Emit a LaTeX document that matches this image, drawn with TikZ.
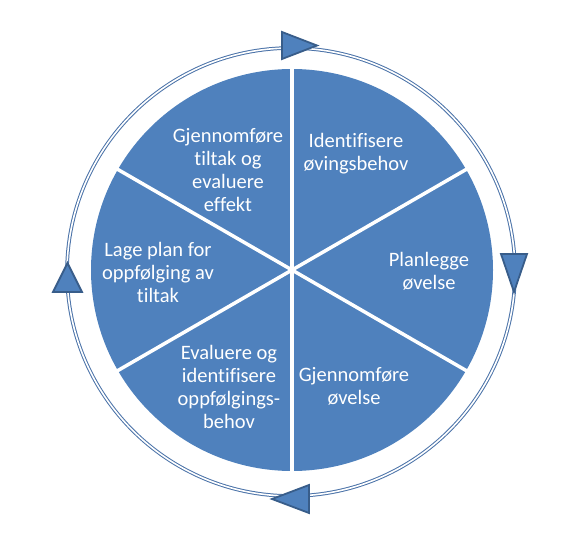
\documentclass[tikz,border=0pt]{standalone}
\usepackage{fontspec}
\setmainfont{Carlito}[Ligatures=NoCommon]
\definecolor{pieblue}{HTML}{4F81BD}
\definecolor{edgeblue}{HTML}{385D8A}
\definecolor{ringblue}{HTML}{4A72A8}
\begin{document}
\begin{tikzpicture}[x=1pt,y=-1pt,
  lbl/.style={text=white, align=center, font=\fontsize{20.5}{23}\selectfont, inner sep=0pt},
  sepline/.style={white, line width=3.5pt},
  ringline/.style={draw=ringblue, double=white, line width=1pt, double distance=1.6pt},
  tri/.style={fill=pieblue, draw=edgeblue, line width=1.8pt, line join=miter}]
\useasboundingbox (0,0) rectangle (567,540);
\coordinate (c) at (292,270);
\coordinate (rc) at (291,272);
% ring
\draw[ringline] (rc) circle[radius=224pt];
% pie
\fill[pieblue] (c) circle[radius=201pt];
\foreach \a in {30,90,150,210,270,330}
  \draw[sepline] (c) -- ++(\a:203pt);
% arrow heads on ring
\draw[tri] (282,32) -- (317,45.5) -- (282,59) -- cycle;
\draw[tri] (501,254) -- (527,254) -- (514,292) -- cycle;
\draw[tri] (309,485) -- (309,513) -- (272,499) -- cycle;
\draw[tri] (53,292) -- (82,292) -- (67.5,263) -- cycle;
% labels
\node[lbl] (s1) at (356,154) {Identifisere\\øvingsbehov};
\node[lbl] (s2) at (429,271) {Planlegge\\øvelse};
\node[lbl] (s3) at (354,386) {Gjennomføre\\øvelse};
\node[lbl] (s4) at (229,387) {Evaluere og\\identifisere\\oppfølgings-\\behov};
\node[lbl] (s5) at (158,272) {Lage plan for\\oppfølging av\\tiltak};
\node[lbl] (s6) at (228,170) {Gjennomføre\\tiltak og\\evaluere\\effekt};
\end{tikzpicture}
\end{document}
